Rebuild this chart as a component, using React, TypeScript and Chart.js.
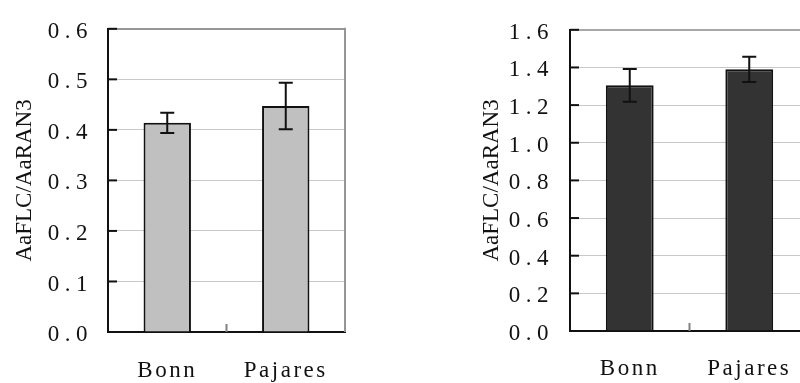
import React, { useEffect, useRef } from 'react';
import { Chart, registerables } from 'chart.js';

Chart.register(...registerables);

// Expression data: two panels sharing the same two accessions
const categories = ['Bonn', 'Pajares'];
const yTitle = 'AaFLC/AaRAN3';

const leftValues = [0.414, 0.447];
const leftErrors = [0.02, 0.046];
const leftTicks = ['0.0', '0.1', '0.2', '0.3', '0.4', '0.5', '0.6'];

const rightValues = [1.305, 1.39];
const rightErrors = [0.087, 0.067];
const rightTicks = ['0.0', '0.2', '0.4', '0.6', '0.8', '1.0', '1.2', '1.4', '1.6'];

const FONT = '"Liberation Serif", "DejaVu Serif", serif';
const INK = '#111111';

type PanelProps = {
  values: number[];
  errors: number[];
  ticks: string[];
  barColor: string;
  frameColor: string;
  canvasLeft: number;
  canvasWidth: number;
  axisWidth: number;
  padRight: number;
  padTop: number;
  xHeight: number;
  titlePad: number;
  yTickPad: number;
  xTickPad: number;
};

// Wraps a scale's label drawing so that its text gets canvas letter-spacing
function spacedLabelsPlugin(spacing: Record<string, number>) {
  return {
    id: 'spacedLabels',
    afterUpdate(chart: any) {
      Object.keys(spacing).forEach((id) => {
        const scale: any = chart.scales[id];
        if (!scale || scale.__spaced) return;
        const original = scale.drawLabels.bind(scale);
        scale.drawLabels = (area: any) => {
          const ctx: any = chart.ctx;
          ctx.save();
          ctx.letterSpacing = spacing[id] + 'px';
          original(area);
          ctx.restore();
        };
        scale.__spaced = true;
      });
    },
  };
}

// Plot frame details: grey right border, inner tick marks, centre divider tick
function framePlugin(frameColor: string) {
  return {
    id: 'frameDetails',
    afterDatasetsDraw(chart: any) {
      const { ctx, chartArea, scales } = chart;
      const y = scales.y;
      const x = scales.x;
      ctx.save();
      ctx.lineCap = 'butt';
      // right border
      ctx.strokeStyle = frameColor;
      ctx.lineWidth = 2;
      ctx.beginPath();
      ctx.moveTo(chartArea.right, chartArea.top - 1);
      ctx.lineTo(chartArea.right, chartArea.bottom);
      ctx.stroke();
      // inward y ticks
      ctx.strokeStyle = INK;
      y.ticks.forEach((t: any) => {
        const py = y.getPixelForValue(t.value);
        ctx.beginPath();
        ctx.moveTo(chartArea.left, py);
        ctx.lineTo(chartArea.left + 9, py);
        ctx.stroke();
      });
      // divider tick between categories
      ctx.strokeStyle = '#808080';
      for (let i = 0; i < x.ticks.length - 1; i++) {
        const px = (x.getPixelForTick(i) + x.getPixelForTick(i + 1)) / 2;
        ctx.beginPath();
        ctx.moveTo(px, chartArea.bottom);
        ctx.lineTo(px, chartArea.bottom - 8);
        ctx.stroke();
      }
      ctx.restore();
    },
  };
}

// Standard-error whiskers drawn from the error arrays
function errorBarPlugin(errors: number[]) {
  return {
    id: 'errorBars',
    afterDatasetsDraw(chart: any) {
      const { ctx, scales } = chart;
      const y = scales.y;
      const meta = chart.getDatasetMeta(0);
      const values = chart.data.datasets[0].data as number[];
      ctx.save();
      ctx.strokeStyle = INK;
      ctx.lineWidth = 2;
      meta.data.forEach((bar: any, i: number) => {
        const cx = bar.x;
        const top = y.getPixelForValue(values[i] + errors[i]);
        const bottom = y.getPixelForValue(values[i] - errors[i]);
        const half = 7;
        ctx.beginPath();
        ctx.moveTo(cx, top);
        ctx.lineTo(cx, bottom);
        ctx.moveTo(cx - half, top);
        ctx.lineTo(cx + half, top);
        ctx.moveTo(cx - half, bottom);
        ctx.lineTo(cx + half, bottom);
        ctx.stroke();
      });
      ctx.restore();
    },
  };
}

function BarPanel(p: PanelProps) {
  const ref = useRef<HTMLCanvasElement | null>(null);

  useEffect(() => {
    if (!ref.current) return;
    const tickValues = p.ticks.map((t) => Number(t));
    const maxValue = tickValues[tickValues.length - 1];
    const chart = new Chart(ref.current, {
      type: 'bar',
      data: {
        labels: categories,
        datasets: [
          {
            data: p.values,
            backgroundColor: p.barColor,
            borderColor: INK,
            borderWidth: 2,
            categoryPercentage: 1,
            barPercentage: 0.4,
          },
        ],
      },
      options: {
        responsive: false,
        animation: false,
        devicePixelRatio: 1,
        layout: { padding: { left: 0, right: p.padRight, top: p.padTop, bottom: 0 } },
        plugins: {
          legend: { display: false },
          tooltip: { enabled: false },
        },
        scales: {
          x: {
            grid: { display: false, drawTicks: false },
            border: { display: true, color: INK, width: 2 },
            ticks: {
              padding: p.xTickPad,
              color: INK,
              font: { family: FONT, size: 23 },
              maxRotation: 0,
            },
            afterFit: (s: any) => {
              s.height = p.xHeight;
            },
          },
          y: {
            min: 0,
            max: maxValue,
            afterBuildTicks: (s: any) => {
              s.ticks = tickValues.map((v) => ({ value: v }));
            },
            grid: {
              drawTicks: false,
              color: (c: any) =>
                c.tick && c.tick.value === 0
                  ? 'rgba(0,0,0,0)'
                  : c.tick && c.tick.value === maxValue
                  ? p.frameColor
                  : '#c8c8c8',
              lineWidth: (c: any) => (c.tick && c.tick.value === maxValue ? 2 : 1),
            },
            border: { display: true, color: INK, width: 2 },
            ticks: {
              padding: p.yTickPad,
              labelOffset: 3,
              color: INK,
              font: { family: FONT, size: 23 },
              callback: (_v: any, i: number) => p.ticks[i],
            },
            title: {
              display: true,
              text: yTitle,
              color: INK,
              font: { family: FONT, size: 23, weight: 'normal' },
              padding: { top: p.titlePad, bottom: 0 },
            },
            afterFit: (s: any) => {
              s.width = p.axisWidth;
            },
          },
        },
      } as any,
      plugins: [
        spacedLabelsPlugin({ x: 2.5, y: 5.5 }),
        framePlugin(p.frameColor),
        errorBarPlugin(p.errors),
      ] as any,
    });
    return () => chart.destroy();
  }, []);

  return (
    <canvas
      ref={ref}
      width={p.canvasWidth}
      height={383}
      style={{ position: 'absolute', left: p.canvasLeft, top: 0, display: 'block' }}
    />
  );
}

export default function App() {
  return (
    <div
      style={{
        position: 'fixed',
        left: 0,
        top: 0,
        width: 800,
        height: 383,
        overflow: 'hidden',
        background: '#ffffff',
      }}
    >
      <BarPanel
        values={leftValues}
        errors={leftErrors}
        ticks={leftTicks}
        barColor="#c0c0c0"
        frameColor="#959595"
        canvasLeft={0}
        canvasWidth={360}
        axisWidth={108}
        padRight={15}
        padTop={27}
        xHeight={51}
        titlePad={11}
        yTickPad={15}
        xTickPad={25}
      />
      <BarPanel
        values={rightValues}
        errors={rightErrors}
        ticks={rightTicks}
        barColor="#333333"
        frameColor="#a8a8a8"
        canvasLeft={440}
        canvasWidth={380}
        axisWidth={130}
        padRight={11}
        padTop={19}
        xHeight={52}
        titlePad={38}
        yTickPad={16}
        xTickPad={24}
      />
    </div>
  );
}
